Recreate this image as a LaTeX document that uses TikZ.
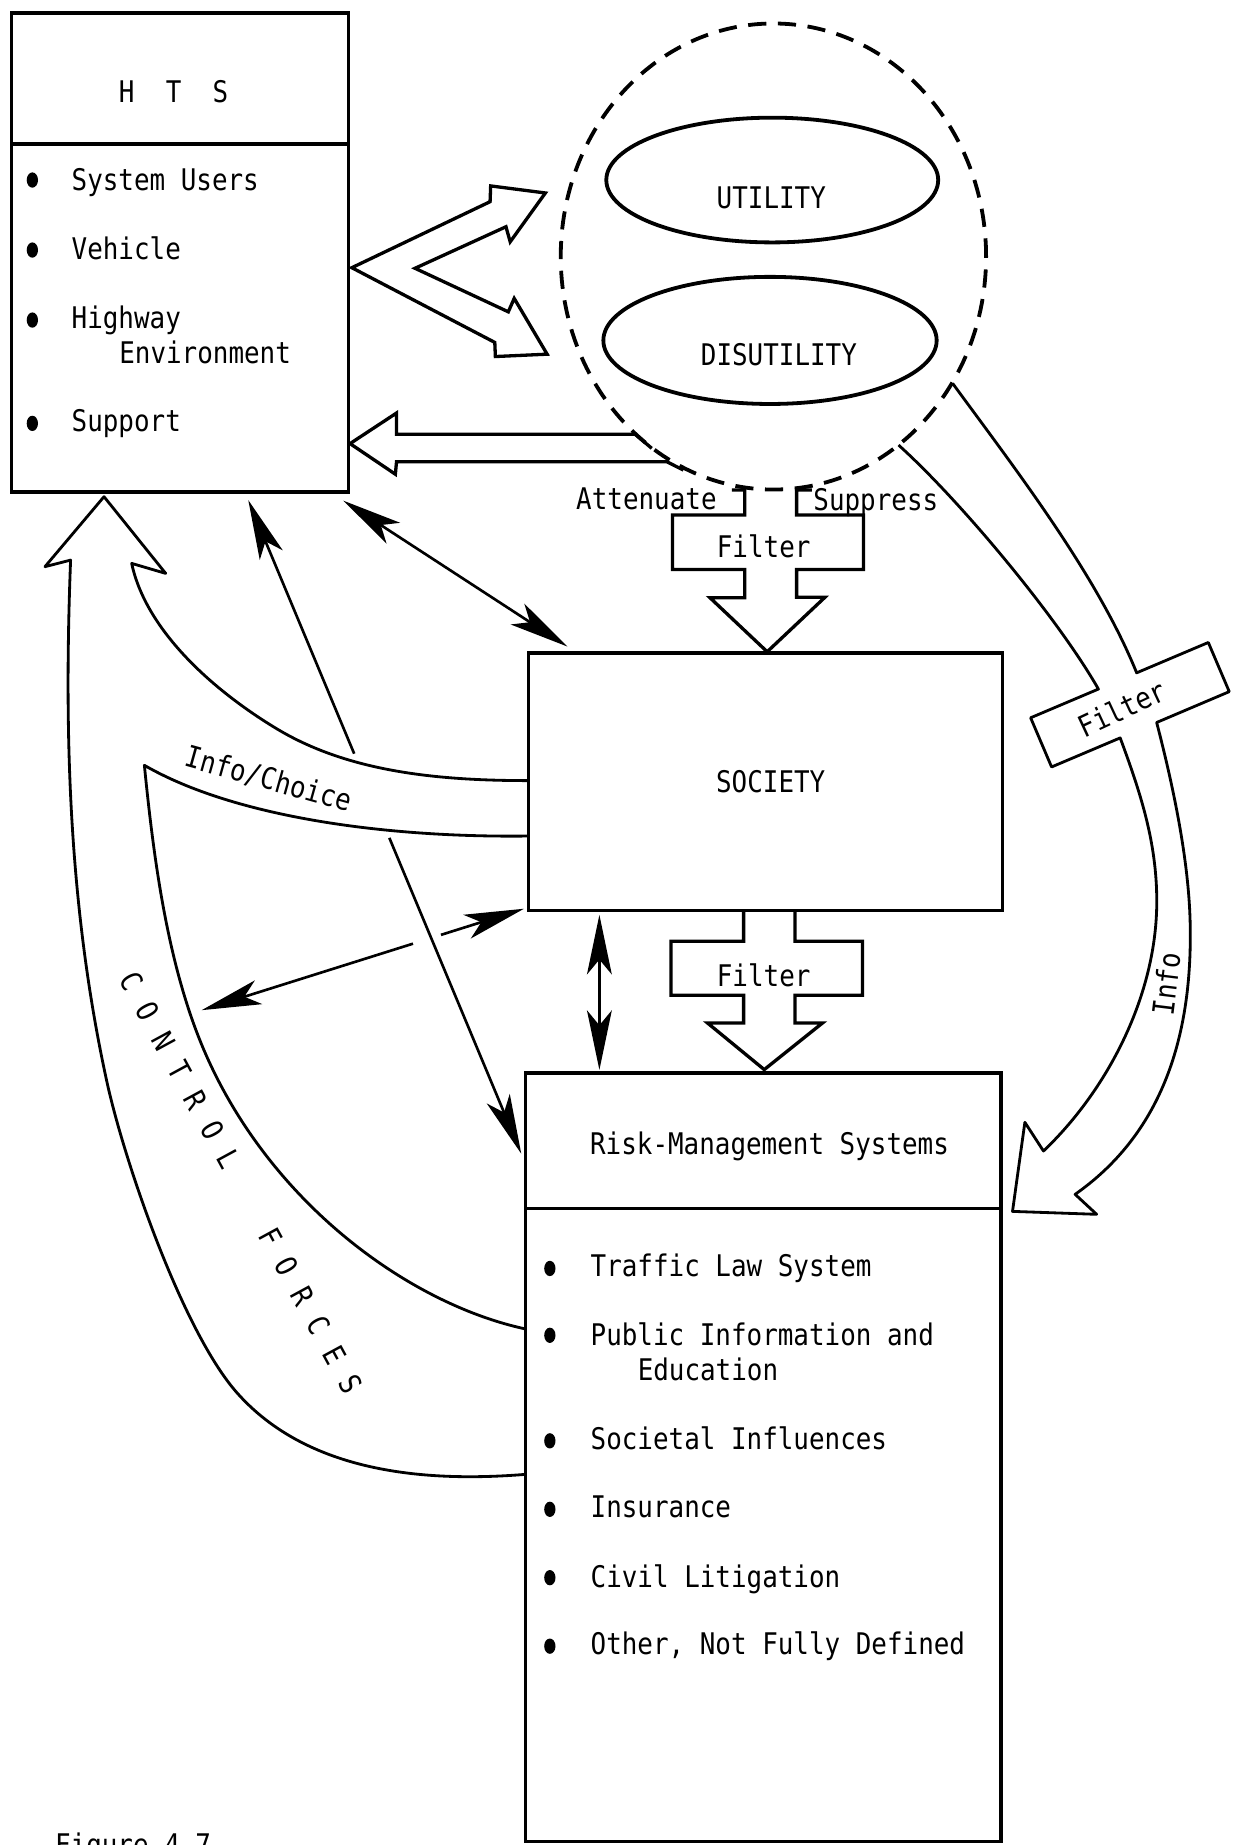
\documentclass[tikz,border=0pt]{standalone}
\usepackage{fontspec}
\usetikzlibrary{arrows.meta,calc,shapes.geometric}
\newfontfamily\typefont{DejaVu Sans Mono}[FakeStretch=0.87]

\begin{document}
\begin{tikzpicture}[x=0.025cm, y=-0.025cm,
  every node/.style={inner sep=0pt, outer sep=0pt, font=\typefont\fontsize{18}{22}\selectfont},
  boxline/.style={line width=2pt},
  ovalline/.style={line width=2.3pt},
  band/.style={line width=1.7pt, line join=round},
  conn/.style={line width=1.6pt},
  >={Stealth[length=36pt,width=15pt,inset=9pt]},
  item/.style={anchor=base west},
  title/.style={anchor=base},
]
% canvas
\useasboundingbox (0,0) rectangle (1048.7,1568);
\fill[white] (0,0) rectangle (1048.7,1568);

% ---------------- utility / disutility cloud ----------------
\node[draw, ellipse, ovalline, dash pattern=on 11pt off 7pt,
      minimum width=9.035cm, minimum height=9.9cm] (circ) at (657.3,218) {};
\node[draw, ellipse, ovalline, minimum width=7.05cm, minimum height=2.65cm] (util) at (656.3,153) {};
\node[draw, ellipse, ovalline, minimum width=7.08cm, minimum height=2.7cm] (disutil) at (654.4,289.3) {};
\node[title] (utiltxt) at (655.5,177) {UTILITY};
\node[title] (disutiltxt) at (662,310.2) {DISUTILITY};

% ---------------- boxes ----------------
\node[draw, boxline, minimum width=7.15cm, minimum height=10.175cm, anchor=north west] (hts) at (10,11) {};
\draw[boxline] (10,122.4) -- (296,122.4);
\node[title] (htstitle) at (147.5,87) {H~~T~~S};

\node[draw, boxline, minimum width=10.075cm, minimum height=5.475cm, anchor=north west] (soc) at (449,555) {};
\node[title] (soctxt) at (655,673.4) {SOCIETY};

\node[draw, boxline, minimum width=10.1cm, minimum height=16.325cm, anchor=north west] (rms) at (446.5,912) {};
\draw[boxline] (446.5,1027) -- (850.5,1027);
\node[title] (rmstitle) at (654,981) {Risk-Management Systems};

% ---------------- HTS items ----------------
\foreach \yb/\yc/\txt in {161.5/153/System Users, 220.4/212.5/Vehicle, 279/272/Highway, 367/359.8/Support}{
  \fill (27.5,\yc) ellipse [x radius=4.8, y radius=6.5];
  \node[item] at (60.9,\yb) {\txt};
}
\node[item] (envtxt) at (101.4,308.8) {Environment};

% ---------------- risk-management items ----------------
\foreach \yb/\yc/\txt in {1085/1078/Traffic Law System, 1143.3/1134.8/Public Information and,
    1231.5/1224.5/Societal Influences, 1289.8/1282.7/Insurance, 1348.9/1340.8/Civil Litigation,
    1406.2/1399/{Other, Not Fully Defined}}{
  \fill (467.3,\yc) ellipse [x radius=4.8, y radius=6.5];
  \node[item] at (502,\yb) {\txt};
}
\node[item] (edutxt) at (542,1173.3) {Education};

% ---------------- HTS -> utility / disutility (hollow chevron) ----------------
\draw[boxline, line join=miter] (299,227.5) -- (416.5,171.4) -- (417,158) -- (463.5,164)
  -- (433.6,205.5) -- (430,192.7) -- (352.7,228) -- (432,265) -- (437,253.6)
  -- (465,301) -- (421,303) -- (420.5,291) -- cycle;

% ---------------- cloud -> HTS (hollow arrow) ----------------
\draw[boxline, line join=miter] (553.9,381) -- (539.7,369) -- (337,369) -- (337,351)
  -- (297.5,377) -- (336,403) -- (337,392.4) -- (566.7,392.4) -- (580.8,399.5);

% ---------------- filter arrows ----------------
\draw[boxline] (622,416.5) -- (633,416.5) -- (633,437.6) -- (571.5,437.6) -- (571.5,484)
  -- (633,484) -- (633,508) -- (603.4,508) -- (652,553.9) -- (701.2,507.5) -- (677,507.5)
  -- (677,484) -- (733.8,484) -- (733.8,437.6) -- (677,437.6) -- (677,416.5) -- (690,416.5);
\node[title] (filt1) at (649,474) {Filter};
\node[anchor=base west] (atten) at (489.7,432.6) {Attenuate};
\node[anchor=base west] (suppr) at (691.3,433.5) {Suppress};

\draw[boxline] (632,774) -- (632,800) -- (570.3,800) -- (570.3,845.8) -- (632,845.8)
  -- (632,869.4) -- (601.3,869.4) -- (649.5,909) -- (699,869.4) -- (675.7,869.4)
  -- (675.7,845.8) -- (733,845.8) -- (733,800) -- (675.7,800) -- (675.7,774);
\node[title] (filt2) at (649,838.2) {Filter};

% ---------------- info band from the cloud to the risk-management systems ----------------
\draw[band] (809.6,325.8) .. controls (862.7,398.4) and (932.3,488.4) .. (966,571.8)
  -- (1026.9,546) -- (1044.7,587.8) -- (983,614)
  .. controls (996.8,667.2) and (1010.4,730.5) .. (1011.5,785.5)
  .. controls (1013.5,885.5) and (985,965) .. (913.7,1015)
  -- (932,1032) -- (860.5,1029.5) -- (871,953.8) -- (886.8,978.2)
  .. controls (941.1,926.5) and (983.1,846) .. (983.1,766)
  .. controls (983.1,716) and (969.4,674) .. (952,627.1)
  -- (893.7,651.8) -- (875.9,610) -- (933.5,585.6)
  .. controls (898.5,524.4) and (815.6,425) .. (763.6,378.2);
\node[rotate=25] (filt3) at (953.4,602) {Filter};
\node[rotate=83] (infotxt) at (991,836) {Info};

% ---------------- control forces and info/choice bands ----------------
\draw[band] (446.5,1253) .. controls (360,1260) and (261.5,1251.2) .. (201.7,1184)
  .. controls (155.2,1131.7) and (105.6,987.1) .. (90.7,918.7)
  .. controls (58.8,772.2) and (54.2,626) .. (60,476)
  -- (38.2,481.6) -- (88.4,422.1) -- (140.8,487.3) -- (111.9,478.8)
  .. controls (124.4,537.5) and (183.9,588.5) .. (235.3,619.4)
  .. controls (295.3,655.5) and (370,663.4) .. (449,663.4);
\draw[band] (449,710.5) .. controls (330,712) and (200,695) .. (122.7,650.4)
  .. controls (130.6,730) and (142.6,822.5) .. (174.8,895.8)
  .. controls (231.1,1024) and (349,1108.4) .. (446.5,1129.4);
\node[rotate=-15.6] (infochoice) at (228.5,662.4) {Info/Choice};

\coordinate (cfA) at (112,834);
\coordinate (cfB) at (298,1177);
\foreach \d/\c in {0/C, 28.7/O, 57.4/N, 86.1/T, 114.8/R, 143.5/O, 172.2/L,
                   247.2/F, 275.7/O, 304.2/R, 332.7/C, 361.2/E, 389.7/S}{
  \node[rotate=-61.5] at ($(cfA)!{\d/390.2}!(cfB)$) {\c};
}

% ---------------- thin connectors ----------------
\coordinate (aH) at (291.8,425.5);
\coordinate (aS) at (482.3,549.5);
\draw[conn, <->] (aH) -- (aS);

\coordinate (bH) at (211,425);
\coordinate (bR) at (443,980.5);
\draw[conn, ->] ($(bH)!0.388!(bR)$) -- (bH);
\draw[conn, ->] ($(bH)!0.5167!(bR)$) -- (bR);

\coordinate (cS) at (445.3,772.3);
\coordinate (cW) at (171.4,858.5);
\draw[conn, ->] ($(cS)!0.2574!(cW)$) -- (cS);
\draw[conn, ->] ($(cS)!0.3443!(cW)$) -- (cW);

\coordinate (dS) at (509.4,777.5);
\coordinate (dR) at (509.4,909.3);
\draw[conn, <->] (dS) -- (dR);

% ---------------- caption ----------------
\node[anchor=base west] (caption) at (46.8,1577) {Figure 4.7};
\end{tikzpicture}
\end{document}
